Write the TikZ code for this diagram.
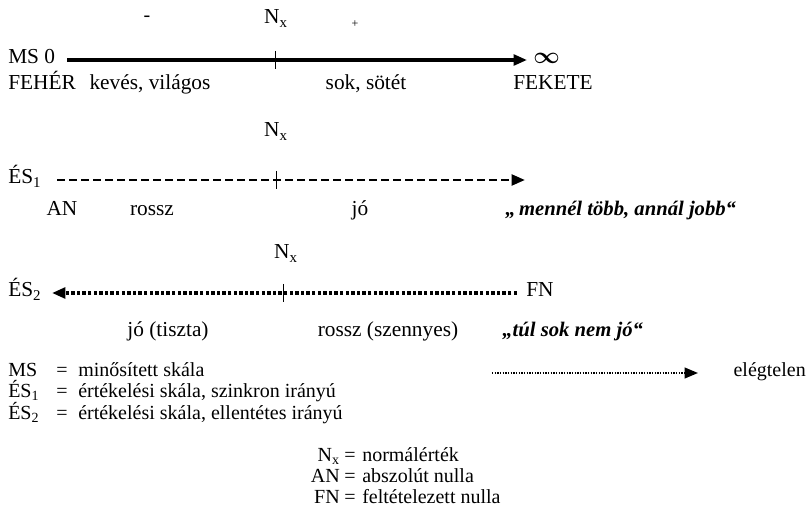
\documentclass[tikz,border=0pt]{standalone}
\usepackage{amsmath, amssymb}
\usepackage{fontspec}
\setmainfont{Liberation Serif}
\usepackage{tikz}
\usetikzlibrary{arrows.meta}

\tikzset{
  lbl/.style={inner sep=0pt, text height=1.5ex, text depth=.3ex, font=\fontsize{16}{18}\selectfont},
  small/.style={inner sep=0pt, text height=1.5ex, text depth=.3ex, font=\fontsize{15}{17}\selectfont},
  quote/.style={inner sep=0pt, text height=1.5ex, text depth=.3ex, font=\fontsize{15.5}{17}\selectfont\bfseries\itshape},
  tip/.style={-{Triangle[length=10pt,width=8pt]}},
  scaletick/.style={line width=0.6pt}
}

\begin{document}
\begin{tikzpicture}[x=0.75pt, y=-0.75pt]
			\useasboundingbox (0,0) rectangle (806,516);
			
			% minositett skala
			\node[lbl, anchor=west] (MS) at (8,60){MS 0};
			\coordinate (MSa) at (67,60);
			\coordinate (MSb) at (527,60);
			\coordinate (MSt) at (275,60);
			\draw[tip, line width=2.4pt] (MSa) -- (MSb);
			\draw[scaletick] (MSt) ++(0,-9) -- ++(0,18);
			\node[lbl, anchor=west] (inf) at (533,60){$\boldsymbol{\infty}$};
			\node[small] (minus) at (147,18){-};
			\node[lbl] (N1) at (276,20){N\textsubscript{x}};
			\node[font=\fontsize{9}{10}\selectfont, inner sep=0pt] (plus) at (355,24){+};
			\node[lbl, anchor=west] (feher) at (8,86){FEHÉR};
			\node[lbl] (keves) at (150,86){kevés, világos};
			\node[lbl] (sok) at (366,86){sok, sötét};
			\node[lbl, anchor=west] (fekete) at (513,86){FEKETE};
			
			% ES1
			\node[lbl] (N2) at (276,133){N\textsubscript{x}};
			\node[lbl, anchor=west] (ES1) at (8,180){ÉS\textsubscript{1}};
			\coordinate (ESa) at (57,180);
			\coordinate (ESb) at (525,180);
			\coordinate (ESt) at (276,180);
			\draw[tip, line width=2.2pt, dash pattern=on 6pt off 3pt] (ESa) -- (ESb);
			\draw[scaletick] (ESt) ++(0,-9) -- ++(0,18);
			\node[lbl] (AN) at (62,212){AN};
			\node[lbl] (rossz1) at (152,212){rossz};
			\node[lbl] (jo1) at (360,212){jó};
			\node[quote, anchor=west] (menn) at (505,212){,,\,mennél több, annál jobb``};
			
			% ES2
			\node[lbl] (N3) at (286,255){N\textsubscript{x}};
			\node[lbl, anchor=west] (ES2) at (8,293){ÉS\textsubscript{2}};
			\coordinate (FSa) at (517,293);
			\coordinate (FSb) at (52,293);
			\coordinate (FSt) at (283,293);
			\draw[tip, line width=3pt, dash pattern=on 2.6pt off 1.6pt] (FSa) -- (FSb);
			\draw[scaletick] (FSt) ++(0,-9) -- ++(0,18);
			\node[lbl, anchor=west] (FN) at (526,293){FN};
			\node[lbl] (jo2) at (168,333){jó (tiszta)};
			\node[lbl] (rossz2) at (388,333){rossz (szennyes)};
			\node[quote, anchor=west] (tul) at (502,333){,,túl sok nem jó``};
			
			% jelmagyarazat
			\node[small, anchor=west] (kMS) at (8,373){MS};
			\node[small, anchor=west] (kES1) at (8,394){ÉS\textsubscript{1}};
			\node[small, anchor=west] (kES2) at (8,416){ÉS\textsubscript{2}};
			\foreach \y in {373,394,416}
				\node[small] at (62,\y){=};
			\node[small, anchor=west] (tMS) at (78,373){minősített skála};
			\node[small, anchor=west] (tES1) at (78,394){értékelési skála, szinkron irányú};
			\node[small, anchor=west] (tES2) at (78,416){értékelési skála, ellentétes irányú};
			
			\coordinate (ELa) at (492,373);
			\coordinate (ELb) at (698,373);
			\draw[tip, line width=1.4pt, dash pattern=on 1pt off 1pt] (ELa) -- (ELb);
			\node[small, anchor=east] (eleg) at (806,373){elégtelen};
			
			\node[small, anchor=east] (kNx) at (340,458){N\textsubscript{x}};
			\node[small, anchor=east] (kAN) at (340,479){AN};
			\node[small, anchor=east] (kFN) at (340,500){FN};
			\foreach \y in {458,479,500}
				\node[small] at (350,\y){=};
			\node[small, anchor=west] (tNx) at (362,458){normálérték};
			\node[small, anchor=west] (tAN) at (362,479){abszolút nulla};
			\node[small, anchor=west] (tFN) at (362,500){feltételezett nulla};
						
		\end{tikzpicture}
\end{document}
